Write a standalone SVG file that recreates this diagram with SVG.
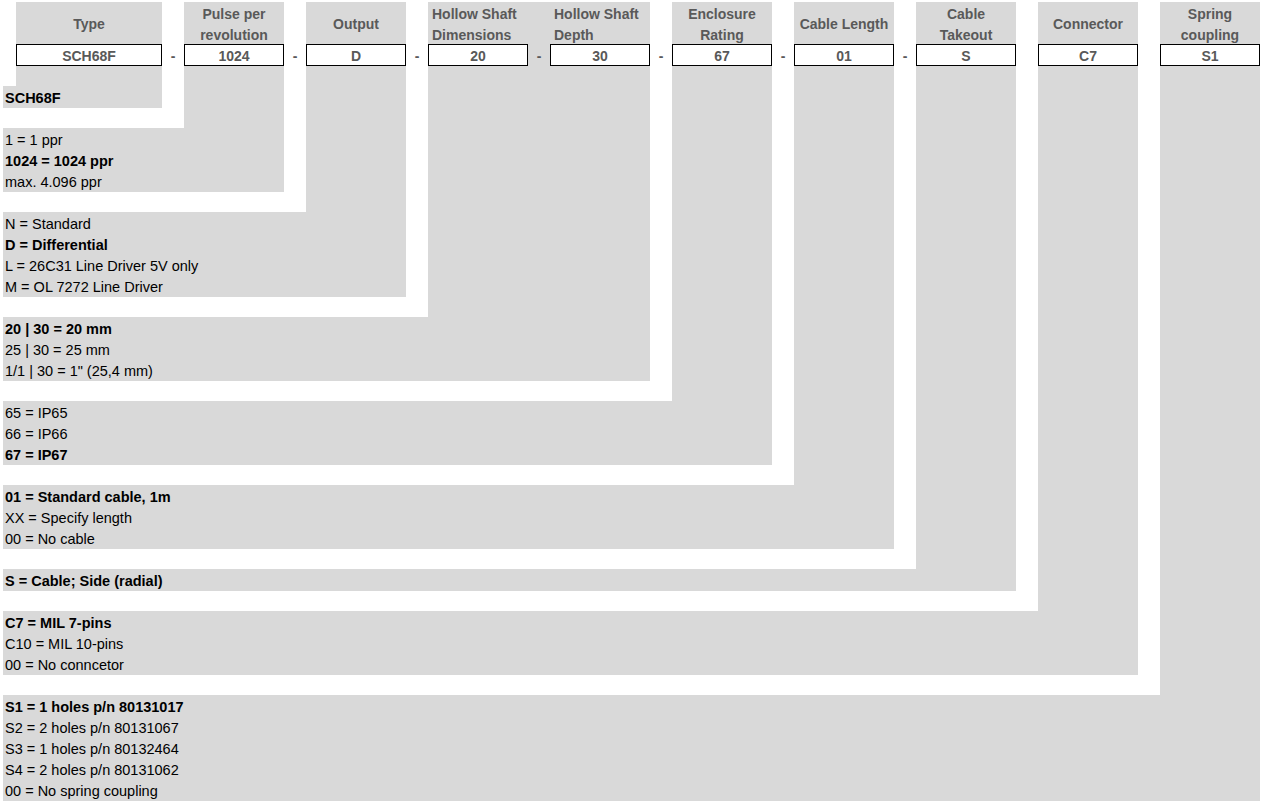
<svg xmlns="http://www.w3.org/2000/svg" width="1262" height="803" viewBox="0 0 1262 803">
<style>
.bg{fill:#d9d9d9}
.box{fill:#fff;stroke:#000;stroke-width:1}
.hd{font-family:"Liberation Sans",Arial,sans-serif;font-size:14px;font-weight:bold;fill:#595959}
.bv{font-family:"Liberation Sans",Arial,sans-serif;font-size:14px;font-weight:bold;fill:#595959;text-anchor:middle}
.t{font-family:"Liberation Sans",Arial,sans-serif;font-size:14.5px;fill:#000}
.b{font-weight:bold}
.m{text-anchor:middle}
.dash{font-family:"Liberation Sans",Arial,sans-serif;font-size:14px;font-weight:bold;fill:#595959;text-anchor:middle}
</style>
<rect width="1262" height="803" fill="#fff"/>
<g id="type">
<path class="bg" d="M16 2H162V108H3V86H16Z"/>
<text class="hd m" x="89" y="29">Type</text>
<rect class="box" x="16.5" y="44.5" width="145" height="21"/>
<text class="bv" x="89" y="61">SCH68F</text>
<text class="t b" x="5" y="103">SCH68F</text>
</g>
<g id="pulse">
<path class="bg" d="M184 2H284V192H3V128H184Z"/>
<text class="hd m" x="234" y="19">Pulse per</text>
<text class="hd m" x="234" y="40">revolution</text>
<rect class="box" x="184.5" y="44.5" width="99" height="21"/>
<text class="bv" x="234" y="61">1024</text>
<text class="t" x="5" y="145">1 = 1 ppr</text>
<text class="t b" x="5" y="166">1024 = 1024 ppr</text>
<text class="t" x="5" y="187">max. 4.096 ppr</text>
</g>
<g id="output">
<path class="bg" d="M306 2H406V297H3V212H306Z"/>
<text class="hd m" x="356" y="29">Output</text>
<rect class="box" x="306.5" y="44.5" width="99" height="21"/>
<text class="bv" x="356" y="61">D</text>
<text class="t" x="5" y="229">N = Standard</text>
<text class="t b" x="5" y="250">D = Differential</text>
<text class="t" x="5" y="271">L = 26C31 Line Driver 5V only</text>
<text class="t" x="5" y="292">M = OL 7272 Line Driver</text>
</g>
<g id="hollow-shaft">
<path class="bg" d="M428 2H650V381H3V317H428Z"/>
<text class="hd" x="432" y="19">Hollow Shaft</text>
<text class="hd" x="432" y="40">Dimensions</text>
<text class="hd" x="554" y="19">Hollow Shaft</text>
<text class="hd" x="554" y="40">Depth</text>
<rect class="box" x="428.5" y="44.5" width="99" height="21"/>
<text class="bv" x="478" y="61">20</text>
<rect class="box" x="550.5" y="44.5" width="99" height="21"/>
<text class="bv" x="600" y="61">30</text>
<text class="t b" x="5" y="334">20 | 30 = 20 mm</text>
<text class="t" x="5" y="355">25 | 30 = 25 mm</text>
<text class="t" x="5" y="376">1/1 | 30 = 1" (25,4 mm)</text>
</g>
<g id="enclosure">
<path class="bg" d="M672 2H772V465H3V401H672Z"/>
<text class="hd m" x="722" y="19">Enclosure</text>
<text class="hd m" x="722" y="40">Rating</text>
<rect class="box" x="672.5" y="44.5" width="99" height="21"/>
<text class="bv" x="722" y="61">67</text>
<text class="t" x="5" y="418">65 = IP65</text>
<text class="t" x="5" y="439">66 = IP66</text>
<text class="t b" x="5" y="460">67 = IP67</text>
</g>
<g id="cable-length">
<path class="bg" d="M794 2H894V549H3V485H794Z"/>
<text class="hd m" x="844" y="29">Cable Length</text>
<rect class="box" x="794.5" y="44.5" width="99" height="21"/>
<text class="bv" x="844" y="61">01</text>
<text class="t b" x="5" y="502">01 = Standard cable, 1m</text>
<text class="t" x="5" y="523">XX = Specify length</text>
<text class="t" x="5" y="544">00 = No cable</text>
</g>
<g id="cable-takeout">
<path class="bg" d="M916 2H1016V591H3V569H916Z"/>
<text class="hd m" x="966" y="19">Cable</text>
<text class="hd m" x="966" y="40">Takeout</text>
<rect class="box" x="916.5" y="44.5" width="99" height="21"/>
<text class="bv" x="966" y="61">S</text>
<text class="t b" x="5" y="586">S = Cable; Side (radial)</text>
</g>
<g id="connector">
<path class="bg" d="M1038 2H1138V675H3V611H1038Z"/>
<text class="hd m" x="1088" y="29">Connector</text>
<rect class="box" x="1038.5" y="44.5" width="99" height="21"/>
<text class="bv" x="1088" y="61">C7</text>
<text class="t b" x="5" y="628">C7 = MIL 7-pins</text>
<text class="t" x="5" y="649">C10 = MIL 10-pins</text>
<text class="t" x="5" y="670">00 = No conncetor</text>
</g>
<g id="spring-coupling">
<path class="bg" d="M1160 2H1260V801H3V695H1160Z"/>
<text class="hd m" x="1210" y="19">Spring</text>
<text class="hd m" x="1210" y="40">coupling</text>
<rect class="box" x="1160.5" y="44.5" width="99" height="21"/>
<text class="bv" x="1210" y="61">S1</text>
<text class="t b" x="5" y="712">S1 = 1 holes p/n 80131017</text>
<text class="t" x="5" y="733">S2 = 2 holes p/n 80131067</text>
<text class="t" x="5" y="754">S3 = 1 holes p/n 80132464</text>
<text class="t" x="5" y="775">S4 = 2 holes p/n 80131062</text>
<text class="t" x="5" y="796">00 = No spring coupling</text>
</g>
<g id="connectors">
<text class="dash" x="173" y="61">-</text>
<text class="dash" x="295" y="61">-</text>
<text class="dash" x="417" y="61">-</text>
<text class="dash" x="539" y="61">-</text>
<text class="dash" x="661" y="61">-</text>
<text class="dash" x="783" y="61">-</text>
<text class="dash" x="905" y="61">-</text>
</g>
</svg>
